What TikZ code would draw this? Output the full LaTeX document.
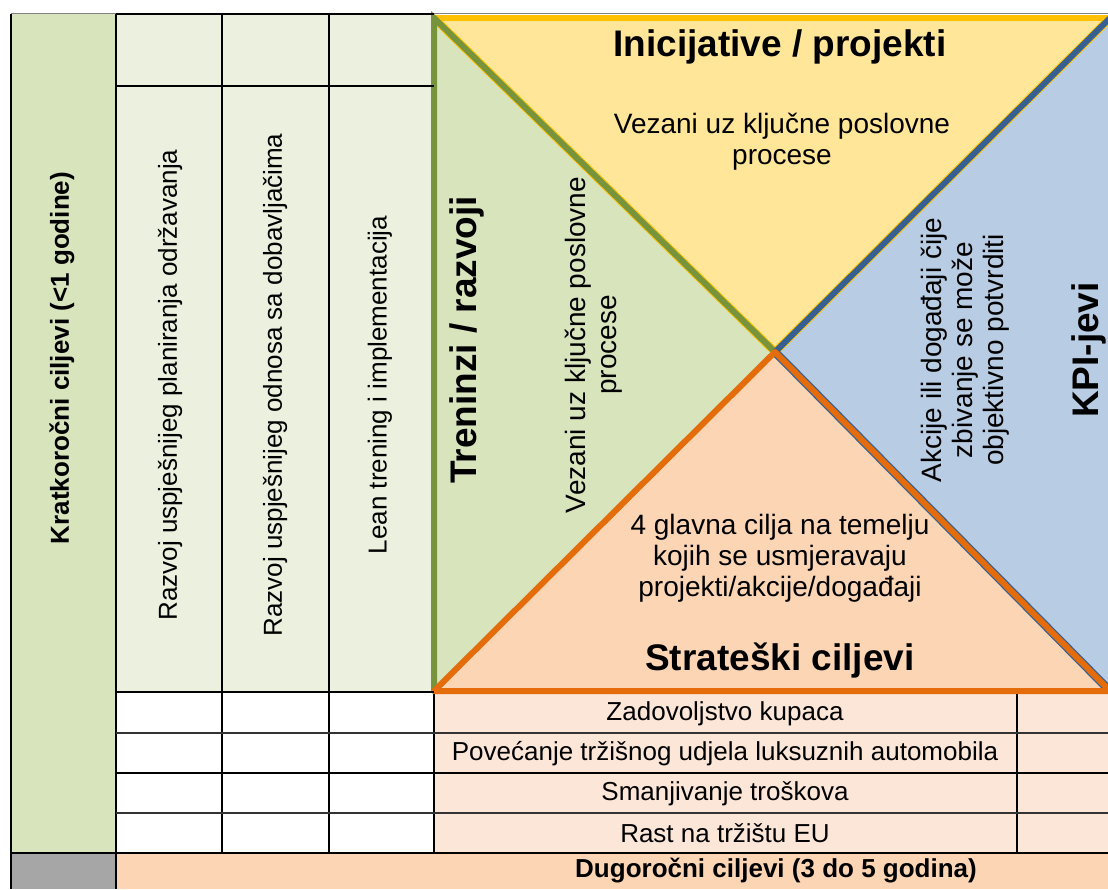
\documentclass[tikz,border=0pt]{standalone}
\usepackage{fontspec}
\setmainfont{Liberation Sans}
\definecolor{lgreen}{HTML}{D8E4BC}
\definecolor{cellgreen}{HTML}{EBF1DE}
\definecolor{greyc}{HTML}{A6A6A6}
\definecolor{yellowf}{HTML}{FFE699}
\definecolor{golds}{HTML}{FFC000}
\definecolor{greens}{HTML}{77933C}
\definecolor{bluef}{HTML}{B8CCE4}
\definecolor{blues}{HTML}{366092}
\definecolor{orangef}{HTML}{FCD5B5}
\definecolor{oranges}{HTML}{E46C0A}
\definecolor{peachlight}{HTML}{FCE6D8}
\tikzset{
  bigt/.style={font=\fontsize{37}{40}\selectfont\bfseries},
  midt/.style={font=\fontsize{28}{31}\selectfont, align=center},
  cellt/.style={font=\fontsize{26}{29}\selectfont},
  hdr/.style={font=\fontsize{26}{29}\selectfont\bfseries},
  gridline/.style={line width=2pt, black},
  thinline/.style={line width=1.5pt, black!80},
}
\begin{document}
\begin{tikzpicture}[x=1pt,y=-1pt]
\useasboundingbox (0,0) rectangle (1108,889);
\clip (0,0) rectangle (1108,889);
\fill[white] (0,0) rectangle (1108,889);
% backgrounds
\fill[lgreen] (11,14) rectangle (116,853);
\fill[greyc] (11,853) rectangle (116,889);
\fill[cellgreen] (116,14) rectangle (434,692);
\fill[white] (116,692) rectangle (434,853);
\fill[peachlight] (434,692) rectangle (1108,853);
\fill[orangef] (116,853) rectangle (1108,889);
% triangle corners
\coordinate (TL) at (434,18);
\coordinate (TR) at (1110,18);
\coordinate (BL) at (434,691);
\coordinate (BR) at (1110,691);
\coordinate (C) at (775,352);
\draw[gray, line width=1pt] (11,13) -- (1108,13);
% fills
\fill[yellowf] (TL) -- (TR) -- (C) -- cycle;
\fill[lgreen] (TL) -- (C) -- (BL) -- cycle;
\fill[bluef] (TR) -- (C) -- (BR) -- cycle;
\fill[orangef] (BL) -- (C) -- (BR) -- cycle;
% strokes
\draw[golds, line width=5.5pt] (TL) -- (TR);
\draw[golds, line width=8pt] (TL) -- (C) -- (TR);
\draw[greens, line width=6pt, line cap=round] (BL) -- (TL) -- (C);
\draw[blues, line width=6pt] (TR) -- (C);
\draw[blues, line width=8.5pt] (C) -- (BR);
\draw[oranges, line width=6pt, line join=round] (C) -- (BL) -- (BR);
\draw[oranges, line width=6pt, line cap=round] (C) -- (BR);
% grid lines
\draw[gridline] (11,14) -- (11,889);
\draw[gridline] (116,14) -- (116,889);
\draw[gridline] (222,14) -- (222,853);
\draw[gridline] (329,14) -- (329,853);
\draw[gridline] (434,694) -- (434,853);
\draw[gridline] (1017,694) -- (1017,853);
\draw[gridline] (116,14) -- (434,14);
\draw[gridline] (116,86) -- (434,86);
\draw[gridline] (116,692) -- (434,692);
\draw[thinline] (116,733) -- (1108,733);
\draw[gridline] (116,773) -- (1108,773);
\draw[thinline] (116,813) -- (1108,813);
\draw[gridline] (11,853) -- (1108,853);
% titles
\node[bigt] (ini) at (780,47) {Inicijative / projekti};
\node[bigt] (str) at (780,661) {Strateški ciljevi};
\node[bigt, rotate=90] (tre) at (467,340) {Treninzi / razvoji};
\node[bigt, rotate=90] (kpi) at (1089,350) {KPI-jevi};
% descriptions
\node[midt] (inid) at (782,142) {Vezani uz ključne poslovne\\procese};
\node[midt, rotate=90] (tred) at (594,345) {Vezani uz ključne poslovne\\procese};
\node[midt, rotate=90] (kpid) at (965,350) {Akcije ili događaji čije\\zbivanje se može\\objektivno potvrditi};
\node[midt] (strd) at (780,558) {4 glavna cilja na temelju\\kojih se usmjeravaju\\projekti/akcije/događaji};
% left header
\node[hdr, rotate=90] (kratko) at (62,358) {Kratkoročni ciljevi (<1 godine)};
\node[hdr] (dugo) at (776,871) {Dugoročni ciljevi (3 do 5 godina)};
% column texts
\node[cellt, rotate=90] (c1) at (170,385) {Razvoj uspješnijeg planiranja održavanja};
\node[cellt, rotate=90] (c2) at (275,385) {Razvoj uspješnijeg odnosa sa dobavljačima};
\node[cellt, rotate=90] (c3) at (380,385) {Lean trening i implementacija};
% goals
\node[cellt] (g1) at (725,714) {Zadovoljstvo kupaca};
\node[cellt] (g2) at (725,754) {Povećanje tržišnog udjela luksuznih automobila};
\node[cellt] (g3) at (725,794) {Smanjivanje troškova};
\node[cellt] (g4) at (725,833) {Rast na tržištu EU};
\end{tikzpicture}
\end{document}
